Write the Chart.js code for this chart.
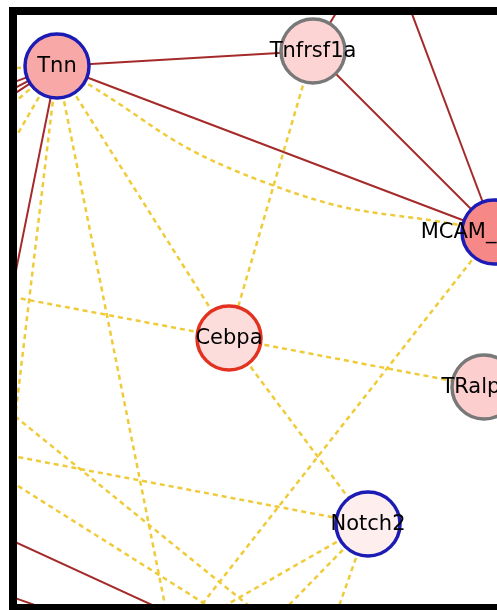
<!DOCTYPE html>
<html>
<head>
<meta charset="utf-8">
<script src="https://cdn.jsdelivr.net/npm/chart.js@4.4.0/dist/chart.umd.min.js"></script>
<style>
  html, body { margin: 0; padding: 0; background: #fff; }
  .frame {
    position: absolute; left: 9px; top: 7px; width: 488px; height: 603px;
    box-sizing: border-box; background: #fff;
    border-left: 8px solid #000; border-top: 8px solid #000; border-bottom: 6px solid #000;
  }
  .plot { position: relative; width: 480px; height: 589px; }
</style>
</head>
<body>
<div class="frame"><div class="plot"><canvas id="net"></canvas></div></div>
<script>
// nodes in the crop, then the ends of edges that leave it ("out..")
const nodeNames = ['Tnn', 'Tnfrsf1a', 'MCAM_CD146', 'Cebpa', 'TRalpha', 'Notch2',
  'out1', 'out2', 'out3', 'out4', 'out5', 'out6', 'out7', 'out8', 'out9', 'out10',
  'out11', 'out12', 'out13', 'out14', 'out15', 'out16', 'out17', 'out18', 'out19',
  'out20', 'out21', 'out22', 'out23', 'out24', 'out25'];
const nodeX = [57, 313, 494, 229, 484, 368,
  -100, -100, -100, -20, 350, 403, -50, 200, -30, 60,
  -60, -60, -30, -5, 172, -40, 174, -40, 165,
  250, 327, -20, 280, -20, 240];
const nodeY = [66, 51, 232, 338, 387, 524,
  125, 148, 168, 450, -10, -10, 512, 627, 582, 614,
  72, 166, 216, 586, 640, 287, 640, 446, 640,
  645, 640, 388, 631, 462, 626];
// expression level of the labelled nodes (fill shade) and their ring group
const nodeLevel = [0.6, 0.3, 0.82, 0.24, 0.34, 0.12];
const nodeGroup = ['query', 'linker', 'query', 'seed', 'linker', 'query'];

const edgeFrom = ['Tnn', 'Tnn', 'Tnn', 'Tnn', 'Tnn', 'Tnn', 'Tnfrsf1a', 'out6', 'Tnfrsf1a', 'out7', 'out9',
  'Tnn', 'Tnn', 'Tnn', 'Tnn', 'Tnn', 'Tnn', 'Tnn', 'Tnfrsf1a', 'Cebpa', 'Cebpa', 'Cebpa',
  'MCAM_CD146', 'Notch2', 'Notch2', 'Notch2', 'Notch2', 'out22', 'out24'];
const edgeTo = ['Tnfrsf1a', 'MCAM_CD146', 'out1', 'out2', 'out3', 'out4', 'out5', 'MCAM_CD146', 'MCAM_CD146', 'out8', 'out10',
  'out11', 'out12', 'out13', 'out14', 'out15', 'Cebpa', 'MCAM_CD146', 'Cebpa', 'out16', 'TRalpha', 'Notch2',
  'out17', 'out18', 'out19', 'out20', 'out21', 'out23', 'out25'];
const edgeKind = ['pp', 'pp', 'pp', 'pp', 'pp', 'pp', 'pp', 'pp', 'pp', 'pp', 'pp',
  'pred', 'pred', 'pred', 'pred', 'pred', 'pred', 'pred', 'pred', 'pred', 'pred', 'pred',
  'pred', 'pred', 'pred', 'pred', 'pred', 'pred', 'pred'];

const ringColors = { query: '#1c1cb4', linker: '#787878', seed: '#e2321f' };
const edgeStyles = {
  pp: { color: '#a52a2a', width: 2, dash: [] },
  pred: { color: '#efcb3a', width: 2.5, dash: [5, 4] }
};

function fillFor(level) {
  const mix = (lo) => Math.round(255 - level * (255 - lo));
  return `rgb(${mix(245)}, ${mix(110)}, ${mix(110)})`;
}

const pos = {};
nodeNames.forEach((n, i) => { pos[n] = { x: nodeX[i], y: nodeY[i] }; });

// second edge between the same pair is drawn bent, like the network viewer does
const seen = {};
const edgeSets = edgeFrom.map((src, i) => {
  const a = pos[src], b = pos[edgeTo[i]];
  const key = [src, edgeTo[i]].sort().join('|');
  const st = edgeStyles[edgeKind[i]];
  let pts = [a, b];
  if (seen[key]) {
    const dx = b.x - a.x, dy = b.y - a.y, len = Math.hypot(dx, dy);
    const bend = 35;
    pts = [a, { x: (a.x + b.x) / 2 - dy / len * bend, y: (a.y + b.y) / 2 + dx / len * bend }, b];
  }
  seen[key] = true;
  return {
    type: 'scatter', data: pts, showLine: true, order: 2,
    borderColor: st.color, borderWidth: st.width, borderDash: st.dash,
    tension: pts.length > 2 ? 0.5 : 0, pointRadius: 0
  };
});

const shown = nodeLevel.map((_, i) => i);
const nodeSet = {
  type: 'scatter', order: 0,
  data: shown.map(i => ({ x: nodeX[i], y: nodeY[i] })),
  pointRadius: 32, pointHoverRadius: 32,
  backgroundColor: shown.map(i => fillFor(nodeLevel[i])),
  borderColor: shown.map(i => ringColors[nodeGroup[i]]),
  borderWidth: 3.5
};

const labels = {
  id: 'labels',
  afterDatasetsDraw(chart) {
    const { ctx, scales } = chart;
    ctx.save();
    ctx.font = '21px "DejaVu Sans", sans-serif';
    ctx.fillStyle = '#000';
    ctx.textAlign = 'center';
    ctx.textBaseline = 'middle';
    shown.forEach(i => {
      ctx.fillText(nodeNames[i], scales.x.getPixelForValue(nodeX[i]), scales.y.getPixelForValue(nodeY[i]) + 1);
    });
    ctx.restore();
  }
};

new Chart(document.getElementById('net'), {
  type: 'scatter',
  data: { datasets: [nodeSet, ...edgeSets] },
  options: {
    responsive: true,
    maintainAspectRatio: false,
    animation: false,
    events: [],
    layout: { padding: 0, autoPadding: false },
    plugins: { legend: { display: false }, tooltip: { enabled: false } },
    scales: {
      x: { type: 'linear', min: 17, max: 497, display: false },
      y: { type: 'linear', min: 15, max: 604, reverse: true, display: false }
    }
  },
  plugins: [labels]
});
</script>
</body>
</html>
